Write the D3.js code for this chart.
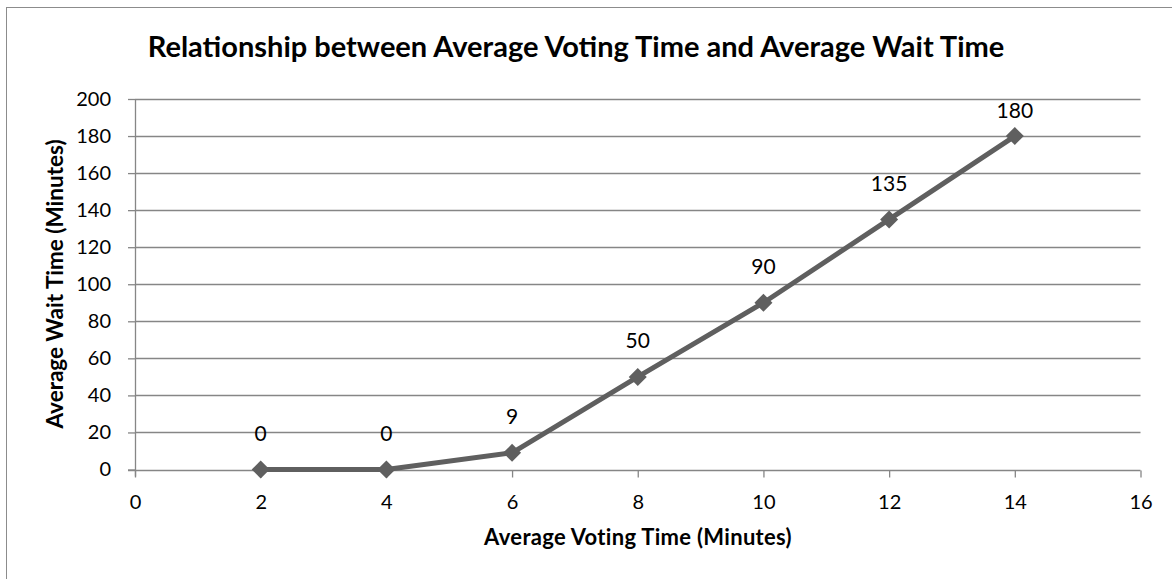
<!DOCTYPE html>
<html>
<head>
<meta charset="utf-8">
<script src="https://cdn.jsdelivr.net/npm/d3@7"></script>
<style>
  html, body { margin: 0; padding: 0; background: #fff; }
  svg { display: block; font-family: Lato, "Open Sans", sans-serif; }
</style>
</head>
<body>
<svg id="chart" width="1172" height="579"></svg>
<script>
// Average voting time (minutes) vs. average wait time (minutes)
const votingTime = [2, 4, 6, 8, 10, 12, 14];
const waitTime = [0, 0, 9, 50, 90, 135, 180];
const xTicks = [0, 2, 4, 6, 8, 10, 12, 14, 16];
const yTicks = [0, 20, 40, 60, 80, 100, 120, 140, 160, 180, 200];

const titleText = "Relationship between Average Voting Time and Average Wait Time";
const xTitle = "Average Voting Time (Minutes)";
const yTitle = "Average Wait Time (Minutes)";

const svg = d3.select("#chart");
const plot = { left: 135, right: 1140.5, top: 99, bottom: 469.5 };

const x = d3.scaleLinear().domain([0, 16]).range([plot.left, plot.right]);
const y = d3.scaleLinear().domain([0, 200]).range([plot.bottom, plot.top]);

const gridColor = "#868686";
const lineColor = "#5f5f5f";
const tickFont = 20;

// outer chart frame
svg.append("rect")
  .attr("x", 6.5).attr("y", 7.5)
  .attr("width", 1180).attr("height", 600)
  .attr("fill", "none").attr("stroke", "#8c8c8c").attr("stroke-width", 1);

// horizontal gridlines
svg.append("g")
  .selectAll("line")
  .data(yTicks.filter(d => d > 0))
  .join("line")
  .attr("x1", plot.left).attr("x2", plot.right)
  .attr("y1", d => Math.round(y(d)) + 0.5).attr("y2", d => Math.round(y(d)) + 0.5)
  .attr("stroke", gridColor).attr("stroke-width", 1.3);

// y axis
const yAxis = svg.append("g")
  .attr("transform", `translate(${plot.left},0)`)
  .call(d3.axisLeft(y).tickValues(yTicks).tickSize(7).tickPadding(17).tickFormat(d3.format("d")));
yAxis.select(".domain").attr("stroke", gridColor).attr("stroke-width", 1.3).attr("d", `M0.5,${plot.top}V${plot.bottom + 7}`);
yAxis.selectAll(".tick line").attr("stroke", gridColor).attr("stroke-width", 1.3);
yAxis.selectAll("text").attr("font-size", tickFont).attr("fill", "#000").attr("font-family", "Lato, sans-serif");

// x axis
const xAxis = svg.append("g")
  .attr("transform", `translate(0,${Math.round(plot.bottom) + 0.5})`)
  .call(d3.axisBottom(x).tickValues(xTicks).tickSize(7).tickFormat(d3.format("d")));
xAxis.select(".domain").attr("stroke", gridColor).attr("stroke-width", 1.3).attr("d", `M${plot.left - 7},0H${plot.right}`);
xAxis.selectAll(".tick line").attr("stroke", gridColor).attr("stroke-width", 1.3);
xAxis.selectAll("text")
  .attr("y", 38).attr("dy", null)
  .attr("font-size", tickFont).attr("fill", "#000").attr("font-family", "Lato, sans-serif");

const pts = votingTime.map((v, i) => ({ x: v, y: waitTime[i] }));

// data line
svg.append("path")
  .datum(pts)
  .attr("fill", "none")
  .attr("stroke", lineColor)
  .attr("stroke-width", 5)
  .attr("stroke-linejoin", "round")
  .attr("d", d3.line().x(d => x(d.x)).y(d => y(d.y)));

// diamond markers
svg.append("g")
  .selectAll("path")
  .data(pts)
  .join("path")
  .attr("transform", d => `translate(${x(d.x)},${y(d.y)})`)
  .attr("d", "M0,-9L9,0L0,9L-9,0Z")
  .attr("fill", lineColor);

// data labels above each point, kept inside the plot area
const labelFont = 21;
svg.append("g")
  .selectAll("text")
  .data(pts)
  .join("text")
  .attr("x", d => x(d.x))
  .attr("y", d => Math.max(y(d.y) - 28.5, plot.top + 19))
  .attr("text-anchor", "middle")
  .attr("font-size", labelFont)
  .attr("fill", "#000")
  .text(d => d.y);

// chart title
svg.append("text")
  .attr("x", 576).attr("y", 57)
  .attr("text-anchor", "middle")
  .attr("font-size", 29).attr("font-weight", "bold")
  .text(titleText);

// x axis title
svg.append("text")
  .attr("x", 638).attr("y", 545)
  .attr("text-anchor", "middle")
  .attr("font-size", 22).attr("font-weight", "bold")
  .attr("letter-spacing", 0.3)
  .text(xTitle);

// y axis title
svg.append("text")
  .attr("transform", `translate(63,284) rotate(-90)`)
  .attr("text-anchor", "middle")
  .attr("font-size", 22.5).attr("font-weight", "bold")
  .text(yTitle);
</script>
</body>
</html>
